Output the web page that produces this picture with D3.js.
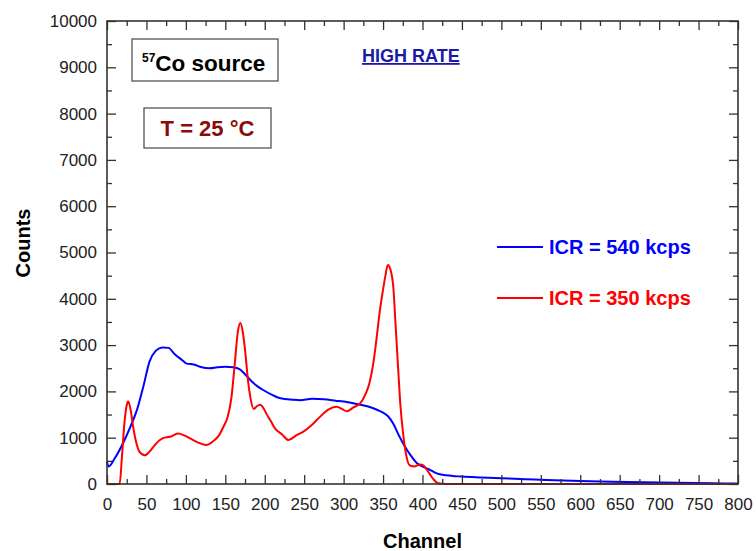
<!DOCTYPE html>
<html>
<head>
<meta charset="utf-8">
<script src="https://cdn.jsdelivr.net/npm/d3@7"></script>
<style>
  body { margin: 0; background: #fff; }
  svg text { font-family: "Liberation Sans", Arial, sans-serif; }
</style>
</head>
<body>
<div id="chart"></div>
<script>
// spectra (channel, counts)
const blueChannels = [0, 2, 10, 20, 30, 38, 46, 54, 62, 70, 78, 86, 95, 101, 110, 120, 130, 140, 150, 160, 168, 175, 182, 190, 198, 210, 220, 235, 245, 260, 275, 290, 300, 316, 330, 340, 350, 356, 363, 370, 378, 385, 393, 401, 410, 418, 430, 450, 475, 500, 530, 557, 600, 640, 700, 768, 800];
const blueCounts = [480, 380, 560, 870, 1250, 1600, 2100, 2650, 2880, 2950, 2940, 2800, 2680, 2600, 2580, 2520, 2500, 2520, 2530, 2520, 2480, 2370, 2240, 2120, 2030, 1920, 1850, 1820, 1810, 1840, 1830, 1800, 1780, 1730, 1680, 1620, 1540, 1470, 1300, 1050, 800, 620, 450, 370, 300, 230, 190, 160, 140, 123, 105, 86, 65, 50, 30, 15, 10];

const redChannels = [0, 16, 19, 22, 25, 27, 30, 33, 37, 41, 48, 54, 60, 71, 80, 90, 98, 105, 115, 126, 135, 142, 148, 153, 158, 162, 166, 169, 172, 175, 179, 182, 186, 190, 194, 198, 202, 208, 213, 222, 230, 240, 249, 260, 270, 280, 291, 298, 304, 312, 321, 328, 333, 338, 342, 346, 350, 353, 356, 359, 363, 366, 369, 372, 376, 379, 384, 390, 397, 401, 405, 409, 414, 420, 430, 800];
const redCounts = [0, 0, 600, 1300, 1700, 1780, 1600, 1250, 900, 700, 620, 700, 830, 990, 1020, 1090, 1050, 990, 900, 840, 930, 1050, 1250, 1450, 1900, 2600, 3300, 3480, 3300, 2900, 2200, 1850, 1620, 1680, 1710, 1650, 1520, 1350, 1200, 1070, 950, 1050, 1130, 1280, 1450, 1600, 1670, 1620, 1570, 1650, 1740, 1950, 2200, 2650, 3180, 3750, 4200, 4500, 4730, 4650, 4250, 3400, 2530, 1700, 1000, 650, 400, 380, 420, 400, 320, 220, 100, 15, 0, 0];

const xTicks = d3.range(0, 801, 50);
const yTicks = d3.range(0, 10001, 1000);
const legendLabels = ["ICR = 540 kcps", "ICR = 350 kcps"];
const seriesColors = ["#0000ff", "#ff0000"];

const width = 756, height = 551;
const margin = {top: 21, right: 18, bottom: 67, left: 107};
const plotW = width - margin.left - margin.right;
const plotH = height - margin.top - margin.bottom;

const svg = d3.select("#chart").append("svg")
    .attr("width", width)
    .attr("height", height);

const g = svg.append("g").attr("transform", `translate(${margin.left},${margin.top})`);

const x = d3.scaleLinear().domain([0, 800]).range([0, plotW]);
const y = d3.scaleLinear().domain([0, 10000]).range([plotH, 0]);

// curves
const series = [
    blueChannels.map((c, i) => [c, blueCounts[i]]),
    redChannels.map((c, i) => [c, redCounts[i]])
];
const line = d3.line()
    .x(d => x(d[0]))
    .y(d => y(d[1]))
    .curve(d3.curveMonotoneX);

g.selectAll("path.series")
    .data(series)
    .join("path")
    .attr("class", "series")
    .attr("fill", "none")
    .attr("stroke", (d, i) => seriesColors[i])
    .attr("stroke-width", 2)
    .attr("d", line);

// axes, ticks pointing inward
const axisColor = "#333";
const minorX = d3.range(25, 800, 50);
const minorY = d3.range(500, 10000, 1000);

function styleAxis(sel) {
    sel.select(".domain").remove();
    sel.selectAll("line").attr("stroke", axisColor).attr("stroke-width", 1.3);
    sel.selectAll("text")
        .attr("fill", "#222")
        .style("font-size", "17px");
}

g.append("g").attr("transform", `translate(0,${plotH})`)
    .call(d3.axisBottom(x).tickValues(xTicks).tickSize(-9).tickPadding(14).tickFormat(d3.format("d")))
    .call(styleAxis);
g.append("g").attr("transform", `translate(0,${plotH})`)
    .call(d3.axisBottom(x).tickValues(minorX).tickSize(-5).tickFormat(""))
    .call(styleAxis);
g.append("g")
    .call(d3.axisLeft(y).tickValues(yTicks).tickSize(-9).tickPadding(10).tickFormat(d3.format("d")))
    .call(styleAxis);
g.append("g")
    .call(d3.axisLeft(y).tickValues(minorY).tickSize(-5).tickFormat(""))
    .call(styleAxis);
g.append("g")
    .call(d3.axisTop(x).tickValues(xTicks).tickSize(-9).tickFormat(""))
    .call(styleAxis);
g.append("g")
    .call(d3.axisTop(x).tickValues(minorX).tickSize(-5).tickFormat(""))
    .call(styleAxis);
g.append("g").attr("transform", `translate(${plotW},0)`)
    .call(d3.axisRight(y).tickValues(yTicks).tickSize(-9).tickFormat(""))
    .call(styleAxis);
g.append("g").attr("transform", `translate(${plotW},0)`)
    .call(d3.axisRight(y).tickValues(minorY).tickSize(-5).tickFormat(""))
    .call(styleAxis);

g.append("rect")
    .attr("width", plotW)
    .attr("height", plotH)
    .attr("fill", "none")
    .attr("stroke", axisColor)
    .attr("stroke-width", 1.6);

// axis titles
svg.append("text")
    .attr("x", margin.left + plotW / 2)
    .attr("y", 548)
    .attr("text-anchor", "middle")
    .style("font-size", "20px")
    .style("font-weight", "bold")
    .text("Channel");

svg.append("text")
    .attr("transform", "translate(30,243) rotate(-90)")
    .attr("text-anchor", "middle")
    .style("font-size", "20px")
    .style("font-weight", "bold")
    .text("Counts");

// annotation boxes
svg.append("rect")
    .attr("x", 132).attr("y", 39).attr("width", 146).attr("height", 42)
    .attr("fill", "#fff").attr("stroke", "#555").attr("stroke-width", 1.3);
const src = svg.append("text")
    .attr("x", 142).attr("y", 71)
    .style("font-weight", "bold");
src.append("tspan").attr("dy", -9).style("font-size", "12px").text("57");
src.append("tspan").attr("dy", 9).style("font-size", "22.5px").text("Co source");

svg.append("rect")
    .attr("x", 144).attr("y", 108).attr("width", 127).attr("height", 40)
    .attr("fill", "#fff").attr("stroke", "#555").attr("stroke-width", 1.3);
svg.append("text")
    .attr("x", 207.5).attr("y", 136)
    .attr("text-anchor", "middle")
    .attr("fill", "#8b0a0a")
    .style("font-size", "22px")
    .style("font-weight", "bold")
    .text("T = 25 °C");

svg.append("text")
    .attr("x", 362).attr("y", 62)
    .attr("fill", "#1a1aa6")
    .style("font-size", "18px")
    .style("font-weight", "bold")
    .style("text-decoration", "underline")
    .text("HIGH RATE");

// legend
const legend = svg.append("g").attr("transform", "translate(497,247)");
const items = legend.selectAll("g")
    .data(legendLabels)
    .join("g")
    .attr("transform", (d, i) => `translate(0,${i * 51})`);
items.append("line")
    .attr("x1", 0).attr("x2", 46)
    .attr("stroke", (d, i) => seriesColors[i])
    .attr("stroke-width", 2);
items.append("text")
    .attr("x", 52).attr("y", 7)
    .attr("fill", (d, i) => seriesColors[i])
    .style("font-size", "20px")
    .style("font-weight", "bold")
    .text(d => d);
</script>
</body>
</html>
